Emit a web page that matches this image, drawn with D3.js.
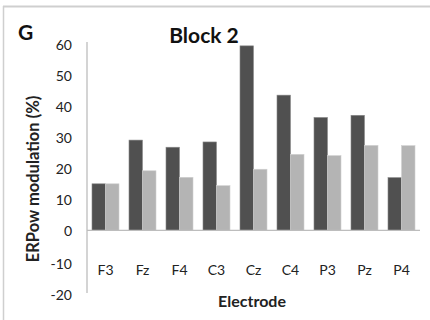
<!DOCTYPE html>
<html><head><meta charset="utf-8">
<script src="https://cdn.jsdelivr.net/npm/d3@7/dist/d3.min.js"></script>
<style>html,body{margin:0;padding:0;background:#fff;}svg{display:block;font-family:Lato,"Open Sans",sans-serif;}</style>
</head><body>
<script>
const categories = ["F3","Fz","F4","C3","Cz","C4","P3","Pz","P4"];
const seriesDark = [15, 29.1, 26.8, 28.5, 59.5, 43.6, 36.4, 37.1, 17.0];
const seriesLight = [15, 19.2, 17.1, 14.4, 19.7, 24.5, 24.1, 27.4, 27.3];
const yTicks = [60, 50, 40, 30, 20, 10, 0, -10, -20];
const title = "Block 2";
const panelLabel = "G";
const yTitle = "ERPow modulation (%)";
const xTitle = "Electrode";

const W = 430, H = 320;
const svg = d3.select("body").append("svg").attr("width", W).attr("height", H);

// frame
svg.append("line").attr("x1",3).attr("x2",W).attr("y1",6.5).attr("y2",6.5).attr("stroke","#cfcfcf").attr("stroke-width",2);
svg.append("line").attr("x1",3.5).attr("x2",3.5).attr("y1",6).attr("y2",H).attr("stroke","#cfcfcf").attr("stroke-width",1.5);

const x0 = d3.scaleBand().domain(categories).range([87, 420]).paddingInner(0.27).paddingOuter(0.135);
const x1 = d3.scaleBand().domain(["dark","light"]).range([0, x0.bandwidth()]);
const y = d3.scaleLinear().domain([-20, 60]).range([292.3, 44.3]);

// y axis line
svg.append("line").attr("x1",87).attr("x2",87).attr("y1",42).attr("y2",293).attr("stroke","#bdbdbd").attr("stroke-width",1.3);

// y tick labels
svg.append("g").selectAll("text").data(yTicks).join("text")
  .attr("x", 72).attr("y", d => y(d) + (d < 0 ? 3 : 0.5)).attr("dy","0.35em")
  .attr("text-anchor","end").attr("font-size",14).attr("fill","#222").text(d => d);

// bars
const groups = svg.append("g").selectAll("g").data(categories).join("g")
  .attr("transform", d => `translate(${x0(d)},0)`);
groups.append("rect").attr("x", x1("dark")).attr("width", x1.bandwidth())
  .attr("y", (d,i) => y(Math.max(0, seriesDark[i]))).attr("height", (d,i) => Math.abs(y(seriesDark[i]) - y(0)))
  .attr("fill","#505050").attr("stroke","#8a8a8a").attr("stroke-width",0.6);
groups.append("rect").attr("x", x1("light")).attr("width", x1.bandwidth())
  .attr("y", (d,i) => y(Math.max(0, seriesLight[i]))).attr("height", (d,i) => Math.abs(y(seriesLight[i]) - y(0)))
  .attr("fill","#b4b4b4").attr("stroke","#d0d0d0").attr("stroke-width",0.6);

// x axis line
svg.append("line").attr("x1",87).attr("x2",420).attr("y1",y(0)).attr("y2",y(0)).attr("stroke","#bdbdbd").attr("stroke-width",1.3);

// category labels
svg.append("g").selectAll("text").data(categories).join("text")
  .attr("x", d => x0(d) + x0.bandwidth()/2).attr("y", 275)
  .attr("text-anchor","middle").attr("font-size",14).attr("fill","#222").text(d => d);

// titles
svg.append("text").attr("x",204).attr("y",43).attr("text-anchor","middle").attr("font-size",21).attr("font-weight","bold").attr("fill","#111").text(title);
svg.append("text").attr("x",18).attr("y",40).attr("font-size",21).attr("font-weight","bold").attr("fill","#111").text(panelLabel);
svg.append("text").attr("transform","translate(39,179) rotate(-90)").attr("text-anchor","middle").attr("font-size",16.5).attr("font-weight","bold").attr("fill","#222").text(yTitle);
svg.append("text").attr("x",252).attr("y",307).attr("text-anchor","middle").attr("font-size",16).attr("font-weight","bold").attr("fill","#222").text(xTitle);
</script>
</body></html>
